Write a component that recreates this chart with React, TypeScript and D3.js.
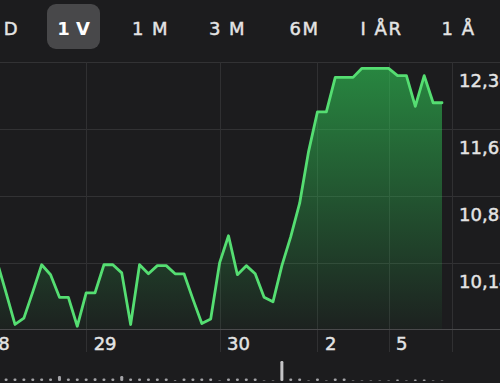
import React from "react";
import * as d3 from "d3";

// ---- data ----
const indices: number[] = d3.range(-2, 49);
const prices: number[] = [
  10.15, 9.81, 9.46, 9.53, 9.82, 10.12, 10.01, 9.76, 9.76, 9.44,
  9.81, 9.81, 10.12, 10.12, 10.03, 9.46, 10.12, 10.02, 10.11, 10.11,
  10.02, 10.02, 9.74, 9.47, 9.52, 10.14, 10.44, 10.01, 10.11, 10.02,
  9.76, 9.71, 10.11, 10.43, 10.8, 11.37, 11.81, 11.81, 12.19, 12.19,
  12.19, 12.29, 12.29, 12.29, 12.29, 12.21, 12.21, 11.87, 12.21, 11.91,
  11.91,
];
const volumes: number[] = [
  12, 12, 12, 12, 12, 12, 12, 25, 12, 12,
  12, 14, 12, 12, 25, 12, 12, 12, 12, 12,
  4, 12, 12, 12, 12, 3, 12, 12, 12, 12,
  3, 3, 100, 12, 12, 3, 12, 3, 12, 12,
  3, 3, 3, 3, 3, 8, 3, 8, 8, 3,
  3,
];
const dayTicks: number[] = [-4, 8, 23, 34, 42];
const dayLabels: string[] = ["28", "29", "30", "2", "5"];
const priceTicks: number[] = [10.14, 10.88, 11.62, 12.36];
const priceLabels: string[] = ["10,14", "10,88", "11,62", "12,36"];
const rangeLabels: string[] = ["1 D", "1 V", "1 M", "3 M", "6M", "I ÅR", "1 Å"];
const selectedRange = "1 V";

export default function App() {
  const W = 500;
  const H = 383;
  const top = 62;
  const base = 329;

  const x = d3.scaleLinear().domain([-2, 48]).range([-2.8, 442]);
  const y = d3.scaleLinear().domain([9.41, 12.36]).range([base, top]);
  const v = d3.scaleLinear().domain([0, 100]).range([0, 20]);
  const rx = d3.scaleLinear().domain([1, 6]).range([73.5, 458.5]);

  const pts = indices.map((d, i) => [d, prices[i]] as [number, number]);
  const line = d3
    .line<[number, number]>()
    .x((d) => x(d[0]))
    .y((d) => y(d[1]))
    .curve(d3.curveLinear);
  const area = d3
    .area<[number, number]>()
    .x((d) => x(d[0]))
    .y0(base)
    .y1((d) => y(d[1]))
    .curve(d3.curveLinear);

  const font = "'DejaVu Sans', Inter, sans-serif";
  const txt = "#e4e4e4";

  return (
    <svg
      width={W}
      height={H}
      style={{ position: "absolute", left: 0, top: 0, display: "block" }}
      fontFamily={font}
    >
      <defs>
        <linearGradient id="fillG" gradientUnits="userSpaceOnUse" x1="0" y1={top} x2="0" y2={base}>
          <stop offset="0" stopColor="#30d158" stopOpacity={0.6} />
          <stop offset="1" stopColor="#30d158" stopOpacity={0.03} />
        </linearGradient>
      </defs>
      <rect x={0} y={0} width={W} height={H} fill="#1c1c1e" />

      {/* range selector */}
      {rangeLabels.map((lab, i) => {
        const sel = lab === selectedRange;
        const first = i === 0;
        const cx = first ? 19 : rx(i);
        return (
          <g key={lab}>
            {sel && <rect x={cx - 26.5} y={4} width={53} height={45} rx={9} fill="#48484a" />}
            <text
              x={cx}
              y={35}
              textAnchor={first ? "end" : "middle"}
              fontSize={18}
              fontWeight={sel ? 700 : 400}
              fill={sel ? "#ffffff" : txt}
              stroke={sel ? "none" : txt}
              strokeWidth={0.45}
              style={{ letterSpacing: sel ? "0px" : "1.5px" }}
            >
              {lab}
            </text>
          </g>
        );
      })}

      {/* horizontal grid */}
      {priceTicks.map((t) => (
        <line key={t} x1={0} x2={W} y1={Math.round(y(t)) + 0.5} y2={Math.round(y(t)) + 0.5} stroke="#323234" strokeWidth={1} />
      ))}
      {/* vertical grid */}
      {dayTicks.map((t) => (
        <line key={t} x1={Math.round(x(t)) + 0.5} x2={Math.round(x(t)) + 0.5} y1={top} y2={352} stroke="#303032" strokeWidth={1} />
      ))}
      <line x1={452.5} x2={452.5} y1={top} y2={352} stroke="#303032" strokeWidth={1} />

      {/* area + line */}
      <path d={area(pts) || ""} fill="url(#fillG)" />
      <path d={line(pts) || ""} fill="none" stroke="#55de72" strokeWidth={2.8} strokeLinejoin="round" strokeLinecap="round" />

      {/* baseline */}
      <line x1={0} x2={W} y1={base + 0.5} y2={base + 0.5} stroke="#4a4a4c" strokeWidth={1.2} />

      {/* price labels */}
      {priceTicks.map((t, i) => (
        <text key={t} x={459} y={y(t) + 25} fontSize={18} fontWeight={400} fill={txt} stroke={txt} strokeWidth={0.45}>
          {priceLabels[i]}
        </text>
      ))}

      {/* day labels */}
      {dayTicks.map((t, i) => (
        <text key={t} x={x(t) + 7.5} y={350} fontSize={18} fontWeight={400} fill={txt} stroke={txt} strokeWidth={0.45}>
          {dayLabels[i]}
        </text>
      ))}

      {/* volume */}
      {indices.map((d, i) => {
        const h = Math.max(v(volumes[i]), 0.5);
        return (
          <rect key={d} x={x(d) - 1.5} y={381 - h} width={3} height={h} rx={1.2} fill={volumes[i] >= 50 ? "#c4c4c6" : "#a4a4a8"} />
        );
      })}
    </svg>
  );
}
